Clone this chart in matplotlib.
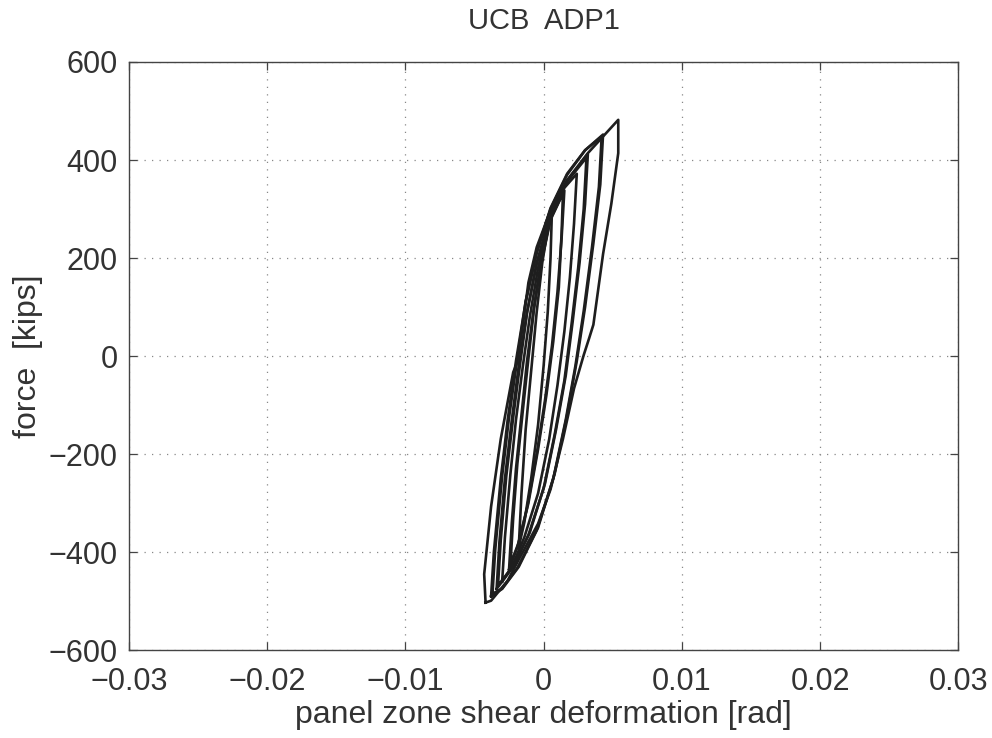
import numpy as np
import matplotlib.pyplot as plt

# hysteresis cycles: (shear deformation [rad], force [kips])
# each cycle = loading branch (neg tip -> pos tip) then unloading (pos tip -> neg tip)
c1_x = [-0.0018, -0.0016, -0.0013, -0.0009, -0.0005, -0.0001, 0.0003, 0.0006,
        0.0005, 0.0003, 0.0000, -0.0004, -0.0009, -0.0014, -0.0018]
c1_f = [-390, -280, -150, -30, 90, 190, 260, 295,
        200, 90, -20, -140, -250, -340, -390]

c2_x = [-0.0025, -0.0023, -0.0020, -0.0016, -0.0012, -0.0007, -0.0002, 0.0005, 0.0015,
        0.0013, 0.0010, 0.0006, 0.0001, -0.0005, -0.0012, -0.0019, -0.0025]
c2_f = [-435, -340, -230, -120, -10, 100, 190, 280, 338,
        240, 130, 20, -90, -200, -310, -390, -435]

c2b_x = [-0.0024, -0.0022, -0.0019, -0.0015, -0.0011, -0.0007, -0.0002, 0.0005, 0.0014,
         0.0013, 0.0011, 0.0007, 0.0002, -0.0004, -0.0011, -0.0018, -0.0024]
c2b_f = [-425, -330, -220, -110, -5, 95, 185, 278, 332,
         250, 140, 30, -80, -190, -300, -380, -425]

c3_x = [-0.0030, -0.0028, -0.0024, -0.0020, -0.0015, -0.0010, -0.0004, 0.0005, 0.0014, 0.0024,
        0.0022, 0.0019, 0.0015, 0.0010, 0.0004, -0.0004, -0.0014, -0.0023, -0.0030]
c3_f = [-460, -370, -240, -130, -20, 80, 180, 285, 340, 372,
        270, 160, 50, -60, -170, -280, -370, -430, -460]

c4_x = [-0.0034, -0.0032, -0.0028, -0.0023, -0.0018, -0.0012, -0.0005, 0.0005, 0.0017, 0.0032,
        0.0030, 0.0026, 0.0021, 0.0016, 0.0009, 0.0001, -0.0010, -0.0022, -0.0034]
c4_f = [-475, -380, -250, -130, -20, 90, 190, 290, 358, 412,
        310, 190, 70, -40, -150, -260, -360, -430, -475]

c4b_x = [-0.0033, -0.0031, -0.0027, -0.0022, -0.0017, -0.0012, -0.0005, 0.0005, 0.0017, 0.0031,
         0.0029, 0.0025, 0.0020, 0.0015, 0.0008, 0.0000, -0.0011, -0.0022, -0.0033]
c4b_f = [-468, -375, -245, -125, -15, 88, 188, 288, 356, 405,
         300, 180, 60, -50, -160, -270, -365, -428, -468]

c5_x = [-0.0038, -0.0036, -0.0031, -0.0026, -0.0020, -0.0013, -0.0005, 0.0005, 0.0017, 0.0030, 0.0043,
        0.0041, 0.0036, 0.0030, 0.0024, 0.0017, 0.0008, -0.0004, -0.0018, -0.0030, -0.0038]
c5_f = [-490, -400, -250, -130, -10, 110, 210, 300, 370, 420, 452,
        350, 230, 100, -10, -120, -240, -350, -430, -475, -490]

c5b_x = [-0.0037, -0.0035, -0.0030, -0.0025, -0.0019, -0.0013, -0.0005, 0.0005, 0.0017, 0.0030, 0.0042,
         0.0040, 0.0035, 0.0029, 0.0023, 0.0016, 0.0007, -0.0005, -0.0019, -0.0030, -0.0037]
c5b_f = [-485, -395, -245, -125, -5, 112, 212, 302, 372, 420, 448,
         345, 222, 92, -20, -130, -250, -355, -432, -474, -485]

c6_x = [-0.0042, -0.0043, -0.0038, -0.0031, -0.0022, -0.0019, -0.0015, -0.0011, -0.0005, 0.0004,
        0.0017, 0.0032, 0.0054,
        0.0054, 0.0049, 0.0043, 0.0036, 0.0033, 0.0029, 0.0022, 0.0014, 0.0005, -0.0004,
        -0.0017, -0.0026, -0.0038, -0.0042]
c6_f = [-503, -445, -307, -169, -33, -12, 64, 150, 222, 290,
        359, 414, 482,
        414, 311, 208, 64, 37, 2, -66, -169, -272, -342,
        -410, -458, -499, -503]

cycles = [(c1_x, c1_f), (c2_x, c2_f), (c2b_x, c2b_f), (c3_x, c3_f), (c4_x, c4_f),
          (c4b_x, c4b_f), (c5_x, c5_f), (c5b_x, c5b_f), (c6_x, c6_f)]

xticks = [-0.03, -0.02, -0.01, 0, 0.01, 0.02, 0.03]
xticklabels = ['\u22120.03', '\u22120.02', '\u22120.01', '0', '0.01', '0.02', '0.03']
yticks = [-600, -400, -200, 0, 200, 400, 600]
yticklabels = ['\u2212600', '\u2212400', '\u2212200', '0', '200', '400', '600']

plt.rcParams['font.family'] = ['Liberation Sans', 'DejaVu Sans']
txt = '#333333'

fig = plt.figure(figsize=(9.92, 7.38), dpi=100)
ax = fig.add_axes([0.130, 0.119, 0.836, 0.797])

for cx, cf in cycles:
    ax.plot(cx, cf, color='#1e1e1e', linewidth=1.9, solid_joinstyle='round')

ax.set_xlim(-0.03, 0.03)
ax.set_ylim(-600, 600)
ax.set_xticks(xticks)
ax.set_xticklabels(xticklabels)
ax.set_yticks(yticks)
ax.set_yticklabels(yticklabels)
ax.grid(True, linestyle=(0, (1, 5)), color='#888888', linewidth=0.9)
ax.tick_params(direction='in', length=6, width=0.9, colors='#444444',
               labelsize=22, labelcolor=txt, top=True, right=True)
ax.tick_params(axis='x', pad=12)
ax.tick_params(axis='y', pad=8)
for s in ax.spines.values():
    s.set_color('#444444')
    s.set_linewidth(1.0)

ax.set_title('UCB  ADP1', fontsize=21, color=txt, pad=24)
ax.set_xlabel('panel zone shear deformation [rad]', fontsize=23, color=txt, labelpad=2)
ax.set_ylabel('force  [kips]', fontsize=23, color=txt, labelpad=4)

fig.savefig('out.png', dpi=100)
